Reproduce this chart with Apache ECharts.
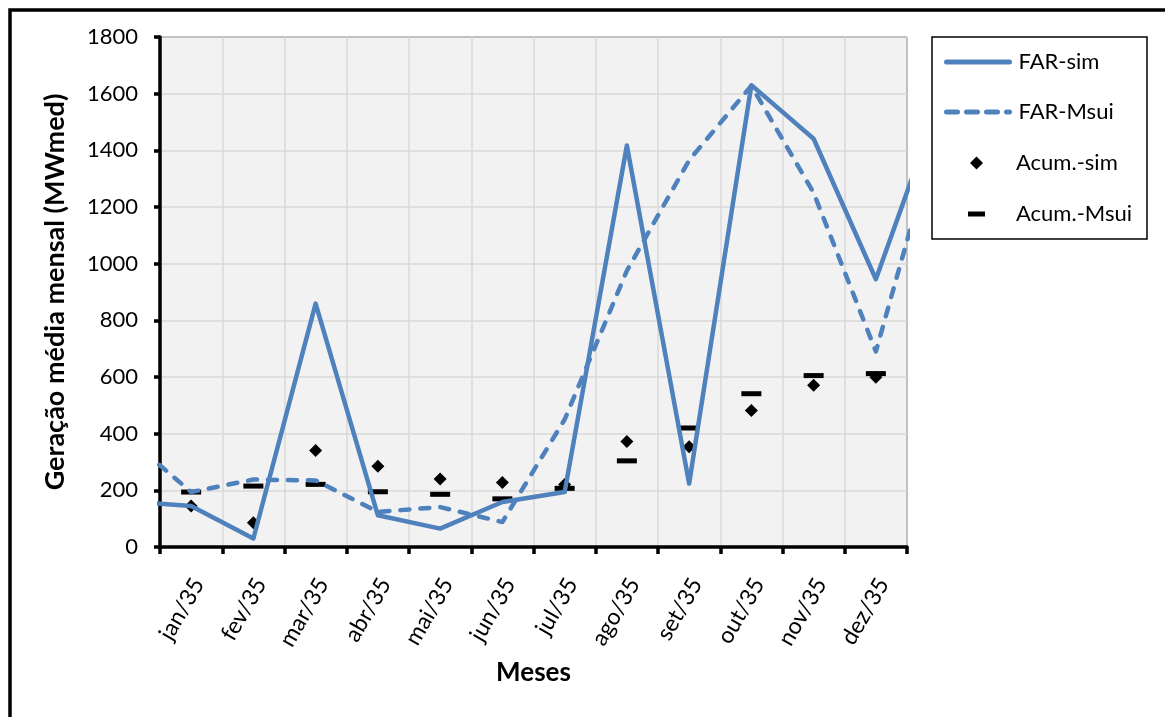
<!DOCTYPE html>
<html>
<head>
<meta charset="utf-8">
<script src="https://cdn.jsdelivr.net/npm/echarts@6/dist/echarts.min.js"></script>
<style>
  html, body { margin: 0; padding: 0; background: #fff; }
  #chart { width: 1165px; height: 717px; }
</style>
</head>
<body>
<div id="chart"></div>
<script>
// Months shown on the category axis
const months = ['jan/35', 'fev/35', 'mar/35', 'abr/35', 'mai/35', 'jun/35',
                'jul/35', 'ago/35', 'set/35', 'out/35', 'nov/35', 'dez/35'];
// The two line series also carry the neighbouring months (dez/34 and jan/36),
// which fall outside the plotted range and are clipped at the plot edges.
const lineMonths = ['dez/34'].concat(months, ['jan/36']);

// Monthly mean generation (MWmed)
const farSim  = [161, 145, 30, 859, 112, 65, 159, 194, 1417, 224, 1630, 1441, 945, 1560];
const farMsui = [382, 194, 238, 235, 124, 141, 88, 450, 975, 1365, 1628, 1250, 690, 1470];
const acumSim  = [145, 86, 341, 285, 240, 228, 221, 372, 354, 482, 571, 599];
const acumMsui = [194, 215, 221, 195, 186, 170, 207, 304, 420, 541, 605, 612];

// y-axis ticks
const yMin = 0, yMax = 1800, yStep = 200;

const FONT = 'Lato';
const BLUE = '#4F81BD';
const DASH = [9, 11];

// position of each month along the continuous x scale (month centre = index + 0.5)
const linePts = (vals) => vals.map((v, i) => [i - 0.5, v]);
const markPts = (vals) => vals.map((v, i) => [i + 0.5, v]);

const chart = echarts.init(document.getElementById('chart'), null, { renderer: 'canvas' });

const legendText = { fontFamily: FONT, fontSize: 22, color: '#000', lineHeight: 24 };
const legendBase = {
  orient: 'vertical',
  padding: 0,
  itemGap: 0,
  textStyle: legendText,
  inactiveColor: '#000'
};
// line-only legend keys (no point marker on the key)
const lineKey = { opacity: 0, borderWidth: 0 };
const lineKeyText = Object.assign({}, legendText, { padding: [0, 0, 0, 4] });

chart.setOption({
  animation: false,
  backgroundColor: '#fff',
  textStyle: { fontFamily: FONT },
  grid: {
    left: 160, top: 37, width: 747, height: 510,
    show: true, backgroundColor: '#F2F2F2', borderColor: '#000', borderWidth: 1
  },
  xAxis: [
    {
      type: 'value', min: 0, max: months.length, interval: 1, position: 'bottom',
      axisLine: { lineStyle: { color: '#000', width: 3.5 } },
      axisTick: { show: true, length: 7, lineStyle: { color: '#000', width: 3.5 } },
      axisLabel: { show: false },
      splitLine: { show: true, lineStyle: { color: '#D9D9D9', width: 1.5 } }
    },
    {
      type: 'category', data: months, boundaryGap: true, position: 'bottom',
      axisLine: { show: false }, axisTick: { show: false },
      axisLabel: {
        rotate: 60, margin: 23, align: 'right', verticalAlign: 'top',
        fontFamily: FONT, fontSize: 23, color: '#000', interval: 0,
        padding: [0, 5, 0, 0]
      },
      name: 'Meses', nameLocation: 'middle', nameGap: 113,
      nameTextStyle: { fontFamily: FONT, fontSize: 26, fontWeight: 'bold', color: '#000' }
    }
  ],
  yAxis: {
    type: 'value', min: yMin, max: yMax, interval: yStep,
    axisLine: { show: true, lineStyle: { color: '#000', width: 3.5 } },
    axisTick: { show: true, length: 6, lineStyle: { color: '#000', width: 3.5 } },
    axisLabel: { margin: 22, fontFamily: FONT, fontSize: 22, color: '#000',
                 formatter: (v) => String(v) },
    splitLine: { show: true, lineStyle: { color: '#D9D9D9', width: 1.5 } },
    name: 'Geração média mensal (MWmed)', nameLocation: 'middle', nameGap: 91,
    nameTextStyle: { fontFamily: FONT, fontSize: 27, fontWeight: 'bold', color: '#000' }
  },
  legend: [
    Object.assign({}, legendBase, { data: ['FAR-sim'], left: 944, top: 50, itemWidth: 63, itemHeight: 14,
      textStyle: lineKeyText, itemStyle: lineKey, lineStyle: { width: 5, cap: 'round' } }),
    Object.assign({}, legendBase, { data: ['FAR-Msui'], left: 944, top: 100, itemWidth: 63, itemHeight: 14,
      textStyle: lineKeyText, itemStyle: lineKey, lineStyle: { width: 5, type: [11, 9], cap: 'round' } }),
    Object.assign({}, legendBase, { data: ['Acum.-sim'], left: 970, top: 151, itemWidth: 13, itemHeight: 13,
      textStyle: Object.assign({}, legendText, { padding: [0, 0, 0, 28] }) }),
    Object.assign({}, legendBase, { data: ['Acum.-Msui'], left: 968, top: 202, itemWidth: 17, itemHeight: 5,
      textStyle: Object.assign({}, legendText, { padding: [0, 0, 0, 26] }) })
  ],
  graphic: [
    // outer frame of the figure
    { type: 'rect', shape: { x: 10, y: 10, width: 1200, height: 800 },
      style: { fill: 'none', stroke: '#000', lineWidth: 3.5 }, z: 0 },
    // legend frame
    { type: 'rect', shape: { x: 932, y: 37, width: 215, height: 202 },
      style: { fill: '#fff', stroke: '#000', lineWidth: 1.5 }, z: 0 }
  ],
  series: [
    {
      name: 'FAR-sim', type: 'line', data: linePts(farSim), clip: true,
      symbol: 'none', lineStyle: { color: BLUE, width: 4.5, cap: 'round', join: 'round' },
      itemStyle: { color: BLUE }
    },
    {
      name: 'FAR-Msui', type: 'line', data: linePts(farMsui), clip: true,
      symbol: 'none', lineStyle: { color: BLUE, width: 4.5, type: DASH, cap: 'round', join: 'round' },
      itemStyle: { color: BLUE }
    },
    {
      name: 'Acum.-sim', type: 'scatter', data: markPts(acumSim),
      symbol: 'diamond', symbolSize: 13, itemStyle: { color: '#000', opacity: 1 }
    },
    {
      name: 'Acum.-Msui', type: 'scatter', data: markPts(acumMsui),
      symbol: 'rect', symbolSize: [20, 5], itemStyle: { color: '#000', opacity: 1 }
    }
  ]
});
</script>
</body>
</html>
